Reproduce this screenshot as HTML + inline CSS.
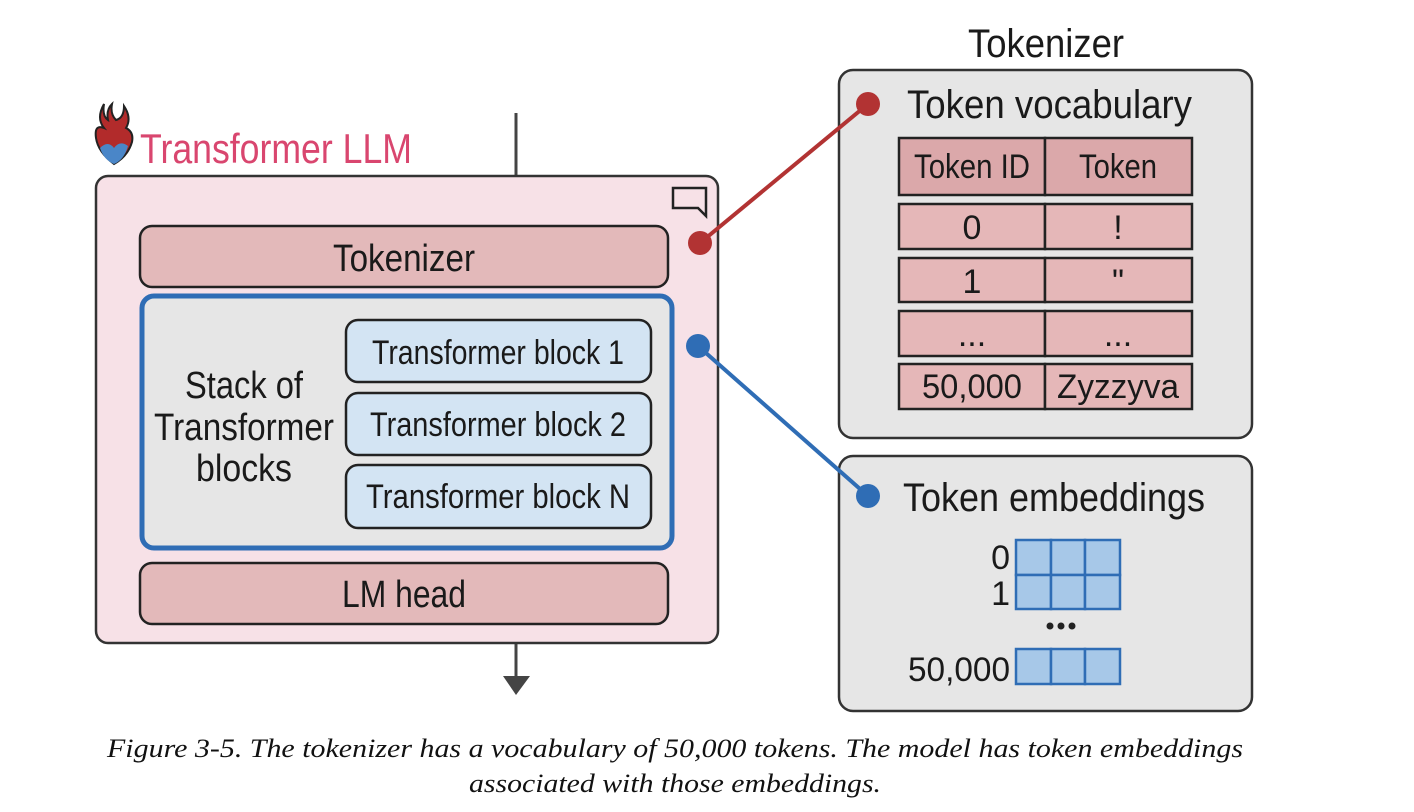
<!DOCTYPE html>
<html><head><meta charset="utf-8"><style>
html,body{margin:0;padding:0;background:#fff;}
svg{display:block;}
text{font-family:"Liberation Sans Narrow","Liberation Sans",sans-serif;fill:#1a1a1a;}
.cap{font-family:"Liberation Serif",serif;font-style:italic;font-size:26px;fill:#111;}
</style></head><body>
<svg width="1414" height="812" viewBox="0 0 1414 812" xmlns="http://www.w3.org/2000/svg">
<line x1="516" y1="113" x2="516" y2="178" stroke="#444" stroke-width="3"/>
<line x1="516" y1="642" x2="516" y2="680" stroke="#444" stroke-width="3"/>
<polygon points="503,676 530,676 516,695" fill="#444"/>
<path d="M104 104 q-8 14 0 24 q-10 -4 -8 10 q2 14 18 26 q14 -8 18 -22 q2 -10 -6 -14 q6 -10 -2 -22 q0 12 -8 14 q-6 -6 -4 -16 q-6 6 -4 16 q-6 -4 -4 -16z" fill="#b22b2b" stroke="#222" stroke-width="2"/>
<path d="M100 148 q8 -8 14 0 q6 -8 14 -2 q-4 14 -14 18 q-10 -4 -14 -16z" fill="#4a86c8"/>
<text x="140" y="163" font-size="42" style="fill:#d9466f" textLength="272" lengthAdjust="spacingAndGlyphs">Transformer LLM</text>
<rect x="96" y="176" width="622" height="467" rx="12" fill="#f7e1e7" stroke="#333" stroke-width="2.5"/>
<path d="M673 188 h33 v20 l0 8 -8 -8 h-25z" fill="none" stroke="#222" stroke-width="2.5"/>
<rect x="140" y="226" width="528" height="61" rx="12" fill="#e3b9ba" stroke="#222" stroke-width="2.5"/>
<text x="404" y="271" font-size="38" text-anchor="middle" textLength="142" lengthAdjust="spacingAndGlyphs">Tokenizer</text>
<rect x="142" y="296" width="530" height="252" rx="12" fill="#e6e6e6" stroke="#2f6db5" stroke-width="5"/>
<text x="244" y="398" font-size="38" text-anchor="middle" textLength="118" lengthAdjust="spacingAndGlyphs">Stack of</text>
<text x="244" y="440" font-size="38" text-anchor="middle" textLength="180" lengthAdjust="spacingAndGlyphs">Transformer</text>
<text x="244" y="481" font-size="38" text-anchor="middle" textLength="96" lengthAdjust="spacingAndGlyphs">blocks</text>
<rect x="346" y="320" width="305" height="62" rx="12" fill="#d3e4f3" stroke="#222" stroke-width="2.5"/>
<text x="498" y="364" font-size="34" text-anchor="middle" textLength="252" lengthAdjust="spacingAndGlyphs">Transformer block 1</text>
<rect x="346" y="393" width="305" height="62" rx="12" fill="#d3e4f3" stroke="#222" stroke-width="2.5"/>
<text x="498" y="436" font-size="34" text-anchor="middle" textLength="256" lengthAdjust="spacingAndGlyphs">Transformer block 2</text>
<rect x="346" y="465" width="305" height="63" rx="12" fill="#d3e4f3" stroke="#222" stroke-width="2.5"/>
<text x="498" y="508" font-size="34" text-anchor="middle" textLength="264" lengthAdjust="spacingAndGlyphs">Transformer block N</text>
<rect x="140" y="563" width="528" height="61" rx="12" fill="#e3b9ba" stroke="#222" stroke-width="2.5"/>
<text x="404" y="607" font-size="38" text-anchor="middle" textLength="124" lengthAdjust="spacingAndGlyphs">LM head</text>
<text x="1046" y="57" font-size="40" text-anchor="middle" textLength="156" lengthAdjust="spacingAndGlyphs">Tokenizer</text>
<rect x="839" y="70" width="413" height="368" rx="14" fill="#e6e6e6" stroke="#333" stroke-width="2.5"/>
<text x="907" y="118" font-size="40" textLength="285" lengthAdjust="spacingAndGlyphs">Token vocabulary</text>
<g stroke="#222" stroke-width="2.5">
<rect x="899" y="138" width="146" height="57" fill="#dba8aa"/><rect x="1045" y="138" width="147" height="57" fill="#dba8aa"/>
<rect x="899" y="204" width="146" height="45" fill="#e5b7b8"/><rect x="1045" y="204" width="147" height="45" fill="#e5b7b8"/>
<rect x="899" y="258" width="146" height="44" fill="#e5b7b8"/><rect x="1045" y="258" width="147" height="44" fill="#e5b7b8"/>
<rect x="899" y="311" width="146" height="45" fill="#e5b7b8"/><rect x="1045" y="311" width="147" height="45" fill="#e5b7b8"/>
<rect x="899" y="364" width="146" height="45" fill="#e5b7b8"/><rect x="1045" y="364" width="147" height="45" fill="#e5b7b8"/>
</g>
<g font-size="34" text-anchor="middle">
<text x="972" y="178" textLength="116" lengthAdjust="spacingAndGlyphs">Token ID</text>
<text x="1118" y="178" textLength="78" lengthAdjust="spacingAndGlyphs">Token</text>
<text x="972" y="239">0</text><text x="1118" y="239">!</text>
<text x="972" y="293">1</text><text x="1118" y="293">"</text>
<text x="972" y="346">...</text><text x="1118" y="346">...</text>
<text x="972" y="398" textLength="100" lengthAdjust="spacingAndGlyphs">50,000</text>
<text x="1118" y="398" textLength="122" lengthAdjust="spacingAndGlyphs">Zyzzyva</text>
</g>
<rect x="839" y="456" width="413" height="255" rx="14" fill="#e6e6e6" stroke="#333" stroke-width="2.5"/>
<text x="903" y="511" font-size="40" textLength="302" lengthAdjust="spacingAndGlyphs">Token embeddings</text>
<g fill="#a7c8e8" stroke="#2f6db5" stroke-width="2.5">
<rect x="1016" y="540" width="35" height="35"/><rect x="1051" y="540" width="34" height="35"/><rect x="1085" y="540" width="35" height="35"/>
<rect x="1016" y="575" width="35" height="34"/><rect x="1051" y="575" width="34" height="34"/><rect x="1085" y="575" width="35" height="34"/>
<rect x="1016" y="649" width="35" height="35"/><rect x="1051" y="649" width="34" height="35"/><rect x="1085" y="649" width="35" height="35"/>
</g>
<g font-size="34" text-anchor="end">
<text x="1010" y="569">0</text><text x="1010" y="605">1</text>
<text x="1010" y="681" textLength="102" lengthAdjust="spacingAndGlyphs">50,000</text>
</g>
<circle cx="1050" cy="626" r="3.5" fill="#222"/><circle cx="1061" cy="626" r="3.5" fill="#222"/><circle cx="1072" cy="626" r="3.5" fill="#222"/>
<line x1="868" y1="104" x2="700" y2="243" stroke="#b23333" stroke-width="4"/>
<circle cx="868" cy="104" r="12" fill="#b23333"/><circle cx="700" cy="243" r="12" fill="#b23333"/>
<line x1="868" y1="496" x2="698" y2="346" stroke="#2f6db5" stroke-width="4"/>
<circle cx="868" cy="496" r="12" fill="#2f6db5"/><circle cx="698" cy="346" r="12" fill="#2f6db5"/>
<text class="cap" x="675" y="757" text-anchor="middle" textLength="1136" lengthAdjust="spacingAndGlyphs">Figure 3-5. The tokenizer has a vocabulary of 50,000 tokens. The model has token embeddings</text>
<text class="cap" x="675" y="792" text-anchor="middle" textLength="412" lengthAdjust="spacingAndGlyphs">associated with those embeddings.</text>
</svg>
</body></html>
